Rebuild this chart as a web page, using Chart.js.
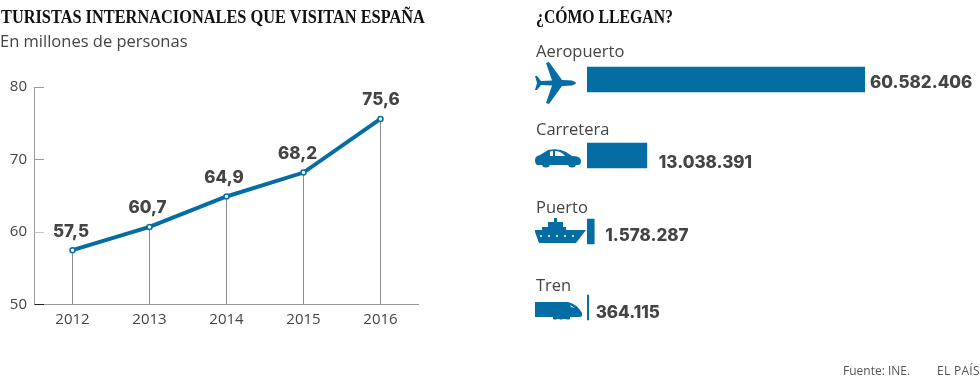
<!DOCTYPE html>
<html><head><meta charset="utf-8">
<style>
html,body{margin:0;padding:0;background:#fff;width:980px;height:390px;overflow:hidden}
canvas{position:absolute;left:0;top:0}
.t{position:absolute;white-space:nowrap;color:#444}
.h{font:bold 18px "Liberation Serif",serif;color:#111;transform-origin:0 0}
.s{font:16.5px "Open Sans",sans-serif}
.f{font:12px "Open Sans",sans-serif;color:#555}
svg{position:absolute;fill:#046da4}
</style></head><body>
<div style="position:absolute;left:0;top:0;width:500px;height:390px"><canvas id="line" width="500" height="390"></canvas></div>
<div style="position:absolute;left:500px;top:0;width:480px;height:390px"><canvas id="bars" width="480" height="390"></canvas></div>
<div class="t h" style="left:1px;top:7px;transform:scaleX(.908)">TURISTAS INTERNACIONALES QUE VISITAN ESPAÑA</div>
<div class="t s" style="left:0;top:29px">En millones de personas</div>
<div class="t h" style="left:536px;top:7px;transform:scaleX(.875)">¿CÓMO LLEGAN?</div>
<div class="t f" style="left:843px;top:362px">Fuente: INE.</div>
<div class="t f" style="left:937px;top:362px;letter-spacing:.3px">EL PAÍS</div>
<svg style="left:535px;top:60px" width="44" height="44" viewBox="0 0 44 44"><path d="M0 16 L2 16 L6 21 L17 20.5 L11 3 L14 2 L27 20 L37 20.5 Q41 22 41 23 Q41 24 37 25.500 L27 26 L14 44 L11 43 L17 25.500 L6 25 L2 30 L0 30 L2 23Z"/></svg>
<svg style="left:535px;top:147px" width="47" height="22" viewBox="0 0 47 22"><path d="M0 13 Q0 9 5 8 L13 3 Q24 1 31 5 L37 9 Q46 9 46 14 Q46 18 43 18 L3 18 Q0 18 0 13Z M15 4.500 L15 9 L18 9 L18 4 Z M20 4 L20 9 L30 9 Q26 4 20 4Z" fill-rule="evenodd"/><circle cx="11" cy="16" r="4.500"/><circle cx="37" cy="16" r="4.500"/></svg>
<svg style="left:535px;top:218px" width="52" height="26" viewBox="0 0 52 26"><path d="M19 0H22V4H28V9H31V12H51L41 25H4L0 14V12H7V9H13V4H19Z"/><g fill="#fff"><circle cx="6" cy="18" r="1"/><circle cx="14" cy="18" r="1"/><circle cx="22" cy="18" r="1"/><circle cx="30" cy="18" r="1"/><circle cx="38" cy="18" r="1"/></g></svg>
<svg style="left:535px;top:301px" width="48" height="20" viewBox="0 0 48 20"><path d="M0 1H33Q42 3 47 12L47 15Q46 16 44 16H35V18Q33 19 31 18H28Q26 19 24 18H22Q20 19 18 18V16H0Z"/><path fill="#fff" d="M35 4L40 7L36 6Z"/></svg>
<script src="https://cdn.jsdelivr.net/npm/chart.js@4"></script>
<script>
const years = ['2012','2013','2014','2015','2016'];
const visitors = [57.5,60.7,64.9,68.2,75.6];
const yTicks = [50,60,70,80];
const modes = ['Aeropuerto','Carretera','Puerto','Tren'];
const arrivals = [60582406,13038391,1578287,364115];
const BLUE='#046da4', INK='#444444';
const sans='"Open Sans",sans-serif';
const boldSans='Inter,sans-serif';
const es1=v=>v.toFixed(1).replace('.',',');
const dots=v=>String(v).replace(/\B(?=(\d{3})+$)/g,'.');

const lineDecor={id:'lineDecor',
 beforeDatasetsDraw(c){
  const {ctx,scales:{x,y}}=c;ctx.save();
  ctx.strokeStyle='#8c8c8c';ctx.lineWidth=1;
  visitors.forEach((v,i)=>{const px=Math.floor(x.getPixelForValue(i))+.5;
   ctx.beginPath();ctx.moveTo(px,y.getPixelForValue(v));ctx.lineTo(px,y.bottom);ctx.stroke();});
  ctx.strokeStyle='#9a9a9a';
  ctx.beginPath();ctx.moveTo(34.5,y.getPixelForValue(80));ctx.lineTo(34.5,y.bottom);ctx.lineTo(x.right,y.bottom);ctx.stroke();
  const tc={50:'#222',60:'#c4c4c4',70:'#9a9a9a',80:'#9a9a9a'};
  yTicks.forEach(t=>{const py=Math.floor(y.getPixelForValue(t))+.5;ctx.strokeStyle=tc[t];
   ctx.beginPath();ctx.moveTo(34.5,py);ctx.lineTo(44,py);ctx.stroke();});
  ctx.restore();},
 afterDatasetsDraw(c){
  const {ctx,scales:{x,y}}=c;ctx.save();
  ctx.font='800 17px '+boldSans;ctx.fillStyle=INK;ctx.textAlign='center';ctx.textBaseline='alphabetic';
  const dx=[-1.5,-2,-2.5,-6,0.5];
  visitors.forEach((v,i)=>ctx.fillText(es1(v),x.getPixelForValue(i)+dx[i],y.getPixelForValue(v)-13.5));
  ctx.restore();}};

new Chart(document.getElementById('line'),{type:'line',
 data:{labels:years,datasets:[{data:visitors,borderColor:BLUE,borderWidth:4,pointBackgroundColor:'#fff',pointBorderColor:BLUE,pointBorderWidth:1.5,pointRadius:2.5,tension:0,clip:false}]},
 plugins:[lineDecor],
 options:{responsive:false,animation:false,events:[],
  layout:{padding:{left:0,top:87,right:81,bottom:0}},
  plugins:{legend:{display:false},tooltip:{enabled:false}},
  scales:{
   x:{offset:true,border:{display:false},grid:{display:false},afterFit(a){a.height=85.5;},ticks:{color:INK,font:{family:sans,size:15},padding:-2,maxRotation:0}},
   y:{min:50,max:80,border:{display:false},grid:{display:false},afterBuildTicks(a){a.ticks=yTicks.map(value=>({value}));},afterFit(a){a.width=34;},ticks:{color:INK,font:{family:sans,size:15},padding:-1}}
  }}});

const barDecor={id:'barDecor',afterDatasetsDraw(c){
  const {ctx,scales:{x,y}}=c;ctx.save();
  ctx.textBaseline='alphabetic';
  const gap=[5,12,11,7],dy=[8,12,9,10],ly=[22.5,20.5,18.5,16.5];
  arrivals.forEach((v,i)=>{const cy=y.getPixelForValue(i);
   ctx.font='800 17px '+boldSans;ctx.fillStyle=INK;ctx.textAlign='left';
   ctx.fillText(dots(v),x.getPixelForValue(v)+gap[i],cy+dy[i]);
   ctx.font='16.5px '+sans;
   ctx.fillText(modes[i],36,cy-ly[i]);});
  ctx.restore();}};

new Chart(document.getElementById('bars'),{type:'bar',
 data:{labels:modes,datasets:[{data:arrivals,backgroundColor:BLUE,barThickness:25,borderWidth:0}]},
 plugins:[barDecor],
 options:{indexAxis:'y',responsive:false,animation:false,events:[],
  layout:{padding:{left:87,right:115,top:41.5,bottom:44.5}},
  plugins:{legend:{display:false},tooltip:{enabled:false}},
  scales:{x:{display:false,min:0,max:60582406},y:{display:false}}}});
</script>
</body></html>
